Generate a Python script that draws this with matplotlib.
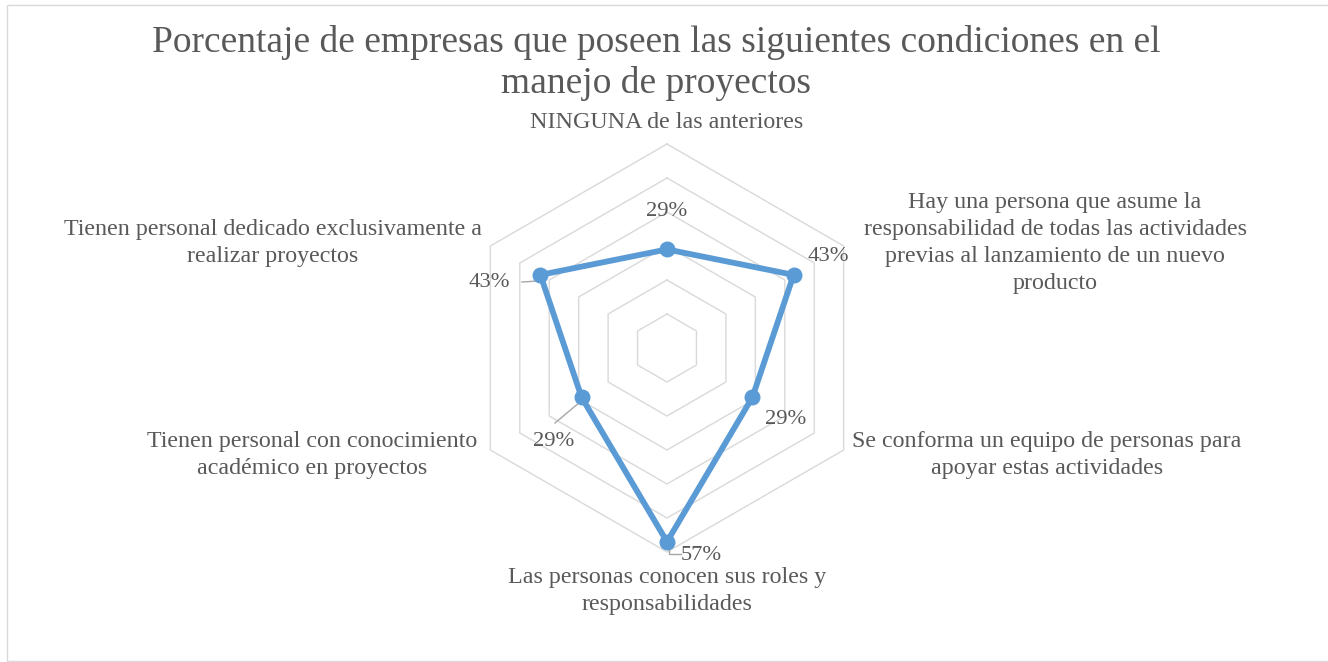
import matplotlib
matplotlib.use("Agg")
import matplotlib.pyplot as plt
import numpy as np
from matplotlib.patches import Rectangle

# ---- data ----
categories = [
    "NINGUNA de las anteriores",
    "Hay una persona que asume la\nresponsabilidad de todas las actividades\nprevias al lanzamiento de un nuevo\nproducto",
    "Se conforma un equipo de personas para\napoyar estas actividades",
    "Las personas conocen sus roles y\nresponsabilidades",
    "Tienen personal con conocimiento\nacadémico en proyectos",
    "Tienen personal dedicado exclusivamente a\nrealizar proyectos",
]
values = [0.29, 0.43, 0.29, 0.57, 0.29, 0.43]
value_labels = ["29%", "43%", "29%", "57%", "29%", "43%"]
ring_levels = [0.1, 0.2, 0.3, 0.4, 0.5, 0.6]
title = "Porcentaje de empresas que poseen las siguientes condiciones en el\nmanejo de proyectos"

W, H = 1328, 662
plt.rcParams['font.family'] = ['Liberation Serif', 'DejaVu Serif']
fig = plt.figure(figsize=(W / 100, H / 100), dpi=100)
fig.patch.set_facecolor("white")

# axes covering the figure, data units: 0.6 -> 204 px, centre at pixel (667,348)
cx, cy, scale = 667, 348, 204 / 0.6
ax = fig.add_axes([0, 0, 1, 1])
ax.set_xlim(-cx / scale, (W - cx) / scale)
ax.set_ylim(-(H - cy) / scale, cy / scale)
ax.axis("off")

n = len(categories)
theta = np.array([2 * np.pi * i / n for i in range(n)])
sx, sy = np.sin(theta), np.cos(theta)

def closed(a):
    a = np.asarray(a)
    return np.append(a, a[0])

# grid hexagons
for r in ring_levels:
    ax.plot(closed(r * sx), closed(r * sy), color="#D9D9D9", lw=1.0, zorder=1)

# data
v = np.array(values)
ax.plot(closed(v * sx), closed(v * sy), color="#5B9BD5", lw=4.2, zorder=3,
        solid_joinstyle="round")
ax.plot(v * sx, v * sy, "o", color="#5B9BD5", ms=10.5, zorder=4)

txt_color = "#595959"

def px(x, y):
    return x / W, 1 - y / H

# title
fig.text(*px(656, 63), title, ha="center", va="center", fontsize=27,
         color=txt_color, linespacing=1.25)

# category labels (pixel positions of their centres)
cat_pos = [(667, 123), (1055, 243), (1047, 455),
           (667, 591), (312, 455), (273, 243)]
for lab, (x, y) in zip(categories, cat_pos):
    fig.text(*px(x, y), lab, ha="center", va="center", fontsize=17.3,
             color=txt_color, linespacing=1.38)

# value labels
val_pos = [(667, 212), (828, 257), (786, 419), (701, 555), (554, 442), (489, 283)]
for lab, (x, y) in zip(value_labels, val_pos):
    fig.text(*px(x, y), lab, ha="center", va="center", fontsize=16.2,
             color=txt_color)

# leader lines (in data coords)
def d(xp, yp):
    return (xp - cx) / scale, (cy - yp) / scale

lc = "#A6A6A6"
x1, y1 = d(522, 282); x2, y2 = d(538, 281)
ax.plot([x1, x2], [y1, y2], color=lc, lw=1.0, zorder=2)
x1, y1 = d(580, 402); x2, y2 = d(555, 423)
ax.plot([x1, x2], [y1, y2], color=lc, lw=1.0, zorder=2)
x1, y1 = d(669, 545); x2, y2 = d(669, 554); x3, y3 = d(681, 554)
ax.plot([x1, x2, x3], [y1, y2, y3], color=lc, lw=1.0, zorder=2)

# chart border
fig.patches.append(Rectangle((6.5 / W, 1 - 660.5 / H), 1.2, (660.5 - 5) / H,
                             transform=fig.transFigure, fill=False,
                             edgecolor="#D9D9D9", lw=1.0))

fig.savefig("out.png", dpi=100, facecolor="white")
